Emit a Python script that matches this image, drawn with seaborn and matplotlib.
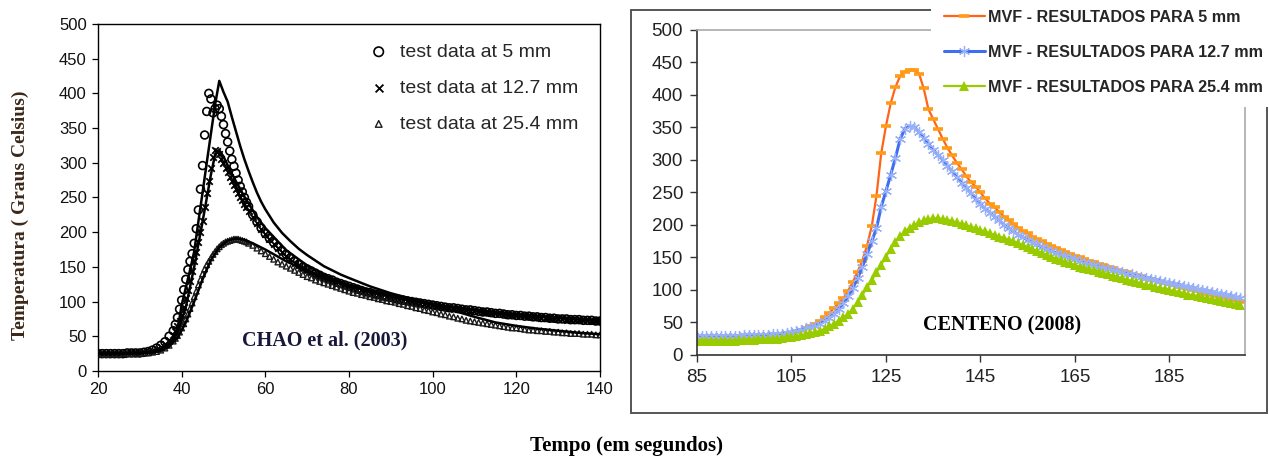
import numpy as np
import matplotlib
matplotlib.use("Agg")
import matplotlib.pyplot as plt
import seaborn as sns
from matplotlib.patches import Rectangle

# ---------------- left panel: CHAO et al. (2003) ----------------
# test data sampled every 1 s, every 0.5 s around the peak
t_test = np.concatenate([np.arange(20, 38), np.arange(38, 56.5, 0.5), np.arange(57, 141)])

test_5 = [25, 25, 25, 25, 25, 25, 25, 26, 26, 26, 26, 27, 28, 30, 33, 37, 42, 50,
          58, 67, 77, 89, 102, 117, 132, 146, 158, 169, 184, 205, 232, 262, 296, 340, 374, 400, 392, 372,
          378, 383, 378, 367, 355, 342, 330, 317, 305, 295, 285, 275, 266, 258, 250, 243, 237,
          225, 215, 206, 198, 191, 185, 179, 173, 168, 163,
          158, 154, 150, 147, 144, 141, 138, 135, 133, 131,
          128, 126, 124, 122, 120, 118, 116, 114, 113, 111,
          110, 108, 107, 106, 104, 103, 102, 101, 100, 99,
          98, 97, 96, 95, 94, 93, 92, 91, 91, 90,
          89, 88, 88, 87, 86, 85, 85, 84, 83, 83,
          82, 81, 81, 80, 80, 79, 79, 78, 78, 77,
          77, 76, 76, 75, 75, 75, 74, 74, 74, 73,
          73, 73, 72, 72]
test_12 = [25, 25, 25, 25, 25, 25, 25, 26, 26, 26, 26, 27, 28, 29, 31, 35, 39, 45,
           52, 58, 65, 72, 80, 92, 105, 117, 130, 144, 158, 172, 186, 200, 216, 236, 256, 274, 292, 308,
           318, 317, 312, 306, 300, 293, 287, 280, 274, 268, 262, 256, 251, 246, 241, 236, 231,
           222, 213, 205, 197, 190, 183, 177, 171, 166, 161,
           156, 152, 148, 145, 142, 139, 136, 133, 131, 128,
           126, 124, 122, 120, 118, 116, 115, 113, 112, 110,
           109, 107, 106, 105, 104, 102, 101, 100, 99, 98,
           97, 96, 95, 95, 94, 93, 92, 91, 90, 90,
           89, 88, 87, 87, 86, 85, 85, 84, 83, 83,
           82, 81, 81, 80, 80, 79, 79, 78, 78, 77,
           77, 76, 76, 75, 75, 74, 74, 74, 73, 73,
           73, 72, 72, 72]
test_25 = [24, 24, 24, 24, 24, 24, 25, 25, 25, 25, 25, 26, 26, 27, 28, 30, 33, 37,
           43, 47, 51, 56, 62, 68, 75, 82, 90, 98, 107, 115, 124, 132, 140, 147, 153, 158, 163, 168,
           172, 176, 179, 182, 184, 186, 187, 188, 189, 190, 190, 190, 189, 188, 187, 186, 184,
           181, 177, 173, 169, 165, 161, 157, 154, 151, 148,
           145, 142, 139, 136, 134, 131, 129, 127, 125, 123,
           121, 119, 117, 115, 113, 112, 110, 109, 107, 106,
           104, 103, 101, 100, 99, 97, 96, 94, 93, 91,
           90, 88, 87, 85, 84, 82, 81, 79, 78, 76,
           75, 73, 72, 71, 70, 69, 68, 67, 66, 65,
           64, 63, 62, 62, 61, 60, 59, 59, 58, 58,
           57, 57, 56, 56, 55, 55, 54, 54, 54, 53,
           53, 53, 52, 52]

# model curves (solid lines)
t_mod5 = [20, 30, 33, 35, 37, 38, 39, 40, 41, 42, 43, 44, 45, 46, 47, 48, 49, 50, 51, 52, 53, 54, 55,
          56, 57, 58, 59, 60, 62, 64, 66, 68, 70, 72, 74, 76, 78, 80, 85, 90, 95, 100, 105, 110, 115,
          120, 125, 130, 135, 140]
mod_5 = [25, 26, 28, 31, 38, 45, 58, 95, 120, 145, 172, 215, 257, 300, 342, 384, 418, 402, 388, 366,
         345, 324, 305, 288, 272, 257, 244, 233, 214, 199, 187, 176, 167, 159, 151, 145, 139, 134, 122,
         112, 104, 97, 91, 87, 83, 80, 78, 76, 74, 72]
t_mod12 = [20, 30, 33, 35, 37, 39, 41, 43, 45, 47, 48, 49, 50, 52, 55, 58, 60, 65, 70, 75, 80, 90, 100,
           110, 120, 130, 140]
mod_12 = [25, 26, 28, 31, 38, 55, 92, 150, 215, 283, 312, 318, 309, 284, 251, 222, 206, 174, 152, 136,
          124, 107, 96, 88, 82, 77, 73]
t_mod25 = [20, 30, 33, 35, 37, 39, 41, 43, 45, 47, 49, 51, 53, 55, 57, 60, 65, 70, 75, 80, 85, 90, 95,
           100, 105, 110, 115, 120, 125, 130, 135, 140]
mod_25 = [25, 26, 27, 29, 35, 48, 70, 100, 132, 160, 178, 188, 191, 189, 184, 175, 158, 144, 133, 124,
          116, 109, 102, 95, 87, 78, 70, 65, 61, 58, 55, 53]

# ---------------- right panel: CENTENO (2008), MVF results every 1 s ----------------
t_mvf = np.arange(85, 201)
mvf_5 = [25, 25, 25, 25, 25, 25, 26, 26, 26, 26, 27, 27, 27, 28, 28,
         29, 29, 30, 31, 32, 34, 36, 38, 41, 44,
         48, 53, 59, 65, 72, 80, 87, 99, 112, 128,
         145, 168, 198, 245, 310, 352, 387, 412, 429, 436,
         438, 438, 433, 410, 378, 363, 348, 333, 319, 307,
         296, 286, 275, 266, 259, 250, 241, 233, 227, 220,
         213, 207, 201, 196, 191, 187, 182, 178, 175, 171,
         168, 165, 162, 159, 156, 153, 150, 148, 145, 143,
         140, 138, 136, 134, 131, 129, 127, 125, 123, 121,
         119, 117, 115, 113, 111, 109, 107, 105, 103, 102,
         100, 98, 96, 94, 93, 91, 89, 87, 85, 84,
         82]
mvf_12 = [29, 29, 29, 29, 29, 29, 29, 29, 29, 29, 30, 30, 30, 31, 31,
          31, 32, 32, 33, 34, 35, 37, 39, 41, 43,
          45, 48, 52, 57, 63, 71, 80, 90, 103, 118,
          135, 155, 175, 195, 228, 252, 277, 303, 332, 348,
          352, 351, 343, 334, 325, 316, 308, 300, 291, 283,
          274, 265, 257, 249, 240, 232, 225, 219, 213, 207,
          200, 195, 190, 185, 181, 177, 173, 170, 166, 163,
          160, 157, 154, 152, 149, 147, 145, 142, 140, 138,
          136, 134, 132, 131, 129, 127, 125, 124, 122, 120,
          119, 117, 116, 114, 112, 111, 109, 108, 106, 104,
          103, 101, 100, 98, 97, 95, 94, 92, 91, 89,
          88]
mvf_25 = [22, 22, 22, 22, 22, 22, 22, 22, 22, 23, 23, 23, 23, 24, 24,
          24, 25, 25, 26, 27, 28, 29, 30, 32, 34,
          35, 37, 40, 44, 48, 53, 58, 63, 71, 81,
          92, 104, 115, 127, 139, 151, 163, 174, 183, 190,
          196, 200, 204, 207, 209, 210, 210, 209, 208, 206,
          204, 202, 200, 197, 195, 192, 190, 187, 185, 182,
          180, 177, 175, 172, 169, 166, 163, 160, 157, 154,
          151, 148, 146, 143, 141, 138, 136, 134, 132, 130,
          128, 126, 124, 122, 120, 118, 116, 114, 112, 110,
          108, 107, 105, 103, 102, 100, 98, 97, 95, 93,
          92, 90, 89, 87, 86, 84, 83, 81, 80, 78,
          77]

legend_left = ["test data at 5 mm", "test data at 12.7 mm", "test data at 25.4 mm"]
legend_right = ["MVF - RESULTADOS PARA 5 mm", "MVF - RESULTADOS PARA 12.7 mm",
                "MVF - RESULTADOS PARA 25.4 mm"]

sns.set_style("ticks")
plt.rcParams["font.family"] = ["Liberation Sans", "DejaVu Sans"]

fig = plt.figure(figsize=(12.69, 4.58), dpi=100)
ax_l = fig.add_axes([0.0772, 0.19, 0.3956, 0.7576])
ax_r = fig.add_axes([0.5492, 0.2249, 0.4319, 0.7096])

# ---- left
sns.scatterplot(x=t_test, y=test_5, ax=ax_l, marker="o", s=32, facecolor="none",
                edgecolor="black", linewidth=1.2, label=legend_left[0], legend=False, zorder=3)
sns.scatterplot(x=t_test, y=test_12, ax=ax_l, marker="x", s=22, color="black",
                linewidth=1.3, label=legend_left[1], legend=False, zorder=3)
sns.scatterplot(x=t_test, y=test_25, ax=ax_l, marker="^", s=16, facecolor="none",
                edgecolor="#1a1a1a", linewidth=1.0, label=legend_left[2], legend=False, zorder=3)
for tt, yy in [(t_mod5, mod_5), (t_mod12, mod_12), (t_mod25, mod_25)]:
    sns.lineplot(x=tt, y=yy, ax=ax_l, color="black", lw=1.8, legend=False, zorder=4)

ax_l.set_xlim(20, 140)
ax_l.set_ylim(0, 500)
ax_l.set_xticks(range(20, 141, 20))
ax_l.set_yticks(range(0, 501, 50))
ax_l.set_xlabel("")
ax_l.set_ylabel("")
for s in ax_l.spines.values():
    s.set_color("black")
    s.set_linewidth(1.0)
ax_l.tick_params(labelsize=12, length=4, width=0.9, color="black", labelcolor="#111111", pad=4)

h, l = ax_l.get_legend_handles_labels()
ax_l.legend(h[:3], l[:3], loc="upper left", bbox_to_anchor=(0.505, 0.995), frameon=False,
            fontsize=14, handletextpad=0.6, labelspacing=0.95, markerscale=1.2,
            handlelength=1.0)

ax_l.text(0.452, 0.089, "CHAO et al. (2003)", transform=ax_l.transAxes, ha="center", va="center",
          fontsize=14.5, fontweight="bold", family="Liberation Serif", color="#17173a")

# ---- right
sns.lineplot(x=t_mvf, y=mvf_5, ax=ax_r, color="#ff6418", lw=1.6, marker="_", markersize=7,
             markeredgewidth=2.6, markeredgecolor="#ff9b16", label=legend_right[0], legend=False)
sns.lineplot(x=t_mvf, y=mvf_12, ax=ax_r, color="#3f6ef0", lw=2.2, marker=(6, 2, 0), markersize=8,
             markeredgewidth=0.9, markeredgecolor="#98b0f8", label=legend_right[1], legend=False)
sns.lineplot(x=t_mvf, y=mvf_25, ax=ax_r, color="#99cc00", lw=1.6, marker="^", markersize=7.5,
             markeredgewidth=0, markerfacecolor="#99cc00", markeredgecolor="#99cc00",
             label=legend_right[2], legend=False)

ax_r.set_xlim(85, 201)
ax_r.set_ylim(0, 500)
ax_r.set_xticks(range(85, 186, 20))
ax_r.set_yticks(range(0, 501, 50))
ax_r.set_xlabel("")
ax_r.set_ylabel("")
ax_r.spines["left"].set_color("#333333")
ax_r.spines["bottom"].set_color("#333333")
ax_r.spines["top"].set_color("#aaaaaa")
ax_r.spines["right"].set_color("#aaaaaa")
for s in ax_r.spines.values():
    s.set_linewidth(1.2)
ax_r.tick_params(labelsize=13.5, length=5, width=1, color="#333333", labelcolor="#222222", pad=5)

ax_r.text(0.557, 0.09, "CENTENO (2008)", transform=ax_r.transAxes, ha="center", va="center",
          fontsize=14.5, fontweight="bold", family="Liberation Serif", color="black")

hr, lr = ax_r.get_legend_handles_labels()
fig.legend(hr, lr, loc="upper left", bbox_to_anchor=(0.734, 1.005), frameon=True,
           facecolor="white", edgecolor="none", framealpha=1, fancybox=False,
           prop={"family": "Liberation Sans", "weight": "bold", "size": 11.6},
           handlelength=2.6, handletextpad=0.15, labelspacing=1.25, borderpad=0.75,
           borderaxespad=0, numpoints=1)

fig.patches.append(Rectangle((0.4972, 0.0983), 0.5012, 0.88, transform=fig.transFigure,
                             fill=False, edgecolor="#555555", lw=1.4, zorder=1))

fig.text(0.016, 0.53, "Temperatura ( Graus Celsius)", rotation=90, ha="center", va="center",
         fontsize=14, fontweight="bold", family="Liberation Serif", color="#3b2818")
fig.text(0.494, 0.026, "Tempo (em segundos)", ha="center", va="center",
         fontsize=15, fontweight="bold", family="Liberation Serif", color="black")

fig.savefig("out.png", dpi=100)
